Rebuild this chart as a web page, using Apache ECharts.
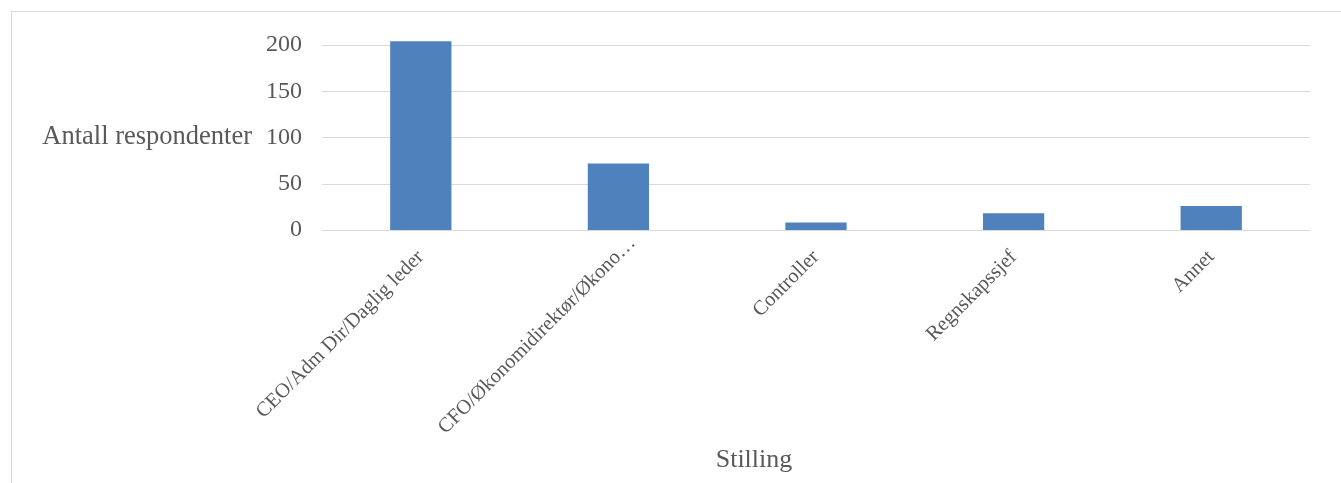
<!DOCTYPE html>
<html>
<head>
<meta charset="utf-8">
<script src="https://cdn.jsdelivr.net/npm/echarts@6/dist/echarts.min.js"></script>
<style>
  html, body { margin: 0; padding: 0; background: #ffffff; }
  #frame { position: absolute; left: 11px; top: 11px; width: 1340px; height: 480px; border-left: 1px solid #d9d9d9; border-top: 1px solid #d9d9d9; }
  #chart { position: absolute; left: 0; top: 0; width: 1341px; height: 483px; }
</style>
</head>
<body>
<div id="frame"></div>
<div id="chart"></div>
<script>
// Respondents by position
const categories = ['CEO/Adm Dir/Daglig leder', 'CFO/Økonomidirektør/Økono…', 'Controller', 'Regnskapssjef', 'Annet'];
const respondents = [204, 72, 8, 18, 26];
const yTicks = { min: 0, max: 200, interval: 50 };

const textColor = '#595959';
const fontFamily = '"Liberation Serif", "Times New Roman", serif';

// The truncated label runs a little past its tick
const categoryItems = categories.map(function (name) {
  return name.endsWith('…') ? { value: name, textStyle: { padding: [0, -20, 0, 0] } } : name;
});

const chart = echarts.init(document.getElementById('chart'), null, { renderer: 'canvas' });
chart.setOption({
  animation: false,
  grid: { left: 322, right: 31, top: 45, bottom: 253, containLabel: false, outerBoundsMode: 'none' },
  xAxis: {
    type: 'category',
    data: categoryItems,
    name: 'Stilling',
    nameLocation: 'middle',
    nameGap: 217,
    nameTextStyle: { color: textColor, fontFamily, fontSize: 26, padding: [0, 124, 0, 0] },
    axisLine: { show: true, lineStyle: { color: '#d9d9d9', width: 1 } },
    axisTick: { show: false },
    axisLabel: { color: textColor, fontFamily, fontSize: 20.5, rotate: 45, margin: 24, interval: 0 }
  },
  yAxis: {
    type: 'value',
    min: yTicks.min,
    max: yTicks.max,
    interval: yTicks.interval,
    name: 'Antall respondenter',
    nameLocation: 'middle',
    nameRotate: 0,
    nameGap: 70,
    nameTextStyle: { color: textColor, fontFamily, fontSize: 26.5 },
    axisLine: { show: false },
    axisTick: { show: false },
    axisLabel: { color: textColor, fontFamily, fontSize: 24, margin: 20 },
    splitLine: { lineStyle: { color: '#d9d9d9', width: 1 } }
  },
  series: [{
    type: 'bar',
    data: respondents,
    barWidth: '31%',
    clip: false,
    itemStyle: { color: '#4f81bd' }
  }]
});
</script>
</body>
</html>
